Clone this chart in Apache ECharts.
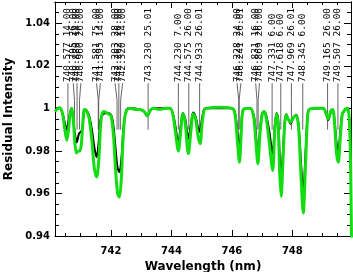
<!DOCTYPE html>
<html><head><meta charset="utf-8">
<script src="https://cdn.jsdelivr.net/npm/echarts@6/dist/echarts.min.js"></script>
<style>html,body{margin:0;padding:0;background:#fff}#c{width:353px;height:272px}</style>
</head><body><div id="c"></div>
<script>
// ---- data ----
const greenWl = [740.15,740.25,740.31,740.40,740.47,740.54,740.60,740.65,740.70,740.75,740.80,740.86,740.92,740.97,741.02,741.07,741.12,741.18,741.27,741.37,741.45,741.53,741.60,741.65,741.70,741.77,741.90,742.00,742.08,742.15,742.22,742.28,742.34,742.40,742.45,742.52,742.63,742.80,742.96,743.10,743.20,743.30,743.39,743.62,743.80,743.95,744.05,744.14,744.23,744.30,744.38,744.45,744.56,744.65,744.72,744.80,744.88,744.95,745.01,745.08,745.15,745.60,746.00,746.10,746.18,746.25,746.31,746.38,746.60,746.72,746.79,746.86,746.93,747.00,747.06,747.13,747.23,747.35,747.42,747.48,747.53,747.58,747.63,747.69,747.75,747.80,747.86,747.95,748.02,748.12,748.20,748.28,748.36,748.44,748.50,748.56,748.75,749.02,749.11,749.19,749.28,749.34,749.41,749.46,749.52,749.58,749.65,749.72,749.81,749.88,749.93,749.97];
const greenVal = [0.9985,1.0000,1.0003,0.9975,0.9905,0.9850,0.9905,0.9970,1.0000,0.9960,0.9850,0.9790,0.9800,0.9800,0.9830,0.9930,0.9995,0.9990,0.9960,0.9850,0.9720,0.9677,0.9760,0.9900,0.9970,0.9985,0.9975,0.9965,0.9880,0.9720,0.9600,0.9583,0.9660,0.9850,0.9950,0.9990,1.0000,0.9995,0.9995,0.9985,0.9965,0.9990,1.0000,0.9995,1.0000,1.0000,0.9970,0.9880,0.9800,0.9880,0.9975,0.9940,0.9787,0.9900,0.9975,0.9950,0.9870,0.9834,0.9920,0.9990,1.0000,1.0005,1.0000,0.9975,0.9850,0.9747,0.9880,0.9995,1.0000,0.9960,0.9850,0.9740,0.9880,0.9970,0.9985,0.9960,0.9850,0.9708,0.9900,0.9975,0.9930,0.9700,0.9586,0.9750,0.9930,0.9970,0.9950,0.9935,0.9955,0.9967,0.9920,0.9700,0.9508,0.9750,0.9950,0.9995,1.0000,1.0000,0.9980,0.9951,0.9990,0.9995,0.9900,0.9790,0.9747,0.9850,0.9970,0.9990,1.0000,0.9960,0.9700,0.9200];

const blackWl = [740.15,740.31,740.40,740.47,740.53,740.60,740.65,740.70,740.76,740.82,740.87,740.94,741.00,741.05,741.10,741.16,741.27,741.37,741.46,741.53,741.60,741.65,741.70,741.85,742.00,742.08,742.16,742.22,742.28,742.35,742.41,742.47,742.52,742.63,742.96,743.10,743.20,743.30,743.39,743.95,744.05,744.14,744.23,744.30,744.38,744.46,744.56,744.65,744.72,744.80,744.88,744.94,745.01,745.08,745.15,746.00,746.10,746.18,746.25,746.31,746.38,746.60,746.72,746.79,746.86,746.93,747.00,747.06,747.13,747.23,747.35,747.42,747.48,747.53,747.58,747.63,747.69,747.75,747.80,747.86,747.95,748.02,748.12,748.20,748.28,748.36,748.44,748.50,748.56,749.02,749.11,749.19,749.28,749.34,749.41,749.46,749.52,749.58,749.65,749.72,749.90];
const blackVal = [1.0000,1.0000,0.9975,0.9935,0.9900,0.9940,0.9980,1.0000,0.9940,0.9870,0.9840,0.9880,0.9890,0.9900,0.9970,0.9995,0.9970,0.9900,0.9810,0.9770,0.9850,0.9940,0.9967,0.9978,0.9970,0.9920,0.9800,0.9720,0.9700,0.9770,0.9900,0.9970,0.9995,1.0000,0.9995,0.9985,0.9963,0.9990,1.0000,1.0000,0.9975,0.9910,0.9834,0.9910,0.9978,0.9950,0.9857,0.9930,0.9980,0.9960,0.9910,0.9889,0.9950,0.9995,1.0000,1.0000,0.9980,0.9900,0.9800,0.9910,0.9995,1.0000,0.9970,0.9890,0.9779,0.9900,0.9975,0.9985,0.9970,0.9900,0.9787,0.9920,0.9978,0.9950,0.9780,0.9677,0.9800,0.9940,0.9972,0.9950,0.9928,0.9950,0.9970,0.9930,0.9760,0.9606,0.9800,0.9955,0.9995,1.0000,0.9975,0.9945,0.9985,0.9990,0.9920,0.9840,0.9800,0.9880,0.9975,0.9990,1.0000];

const lineWl = [740.577,740.795,740.880,740.960,741.581,741.595,742.203,742.262,742.320,743.230,744.230,744.575,744.933,746.228,746.241,746.831,746.869,747.331,747.618,747.969,748.345,749.165,749.507];
const lineLabel = ['740.577 14.00','740.795 26.00','740.880 14.00','740.960 26.00','741.581 75.00','741.595 14.00','742.203 28.00','742.262 26.00','742.320 14.00','743.230 25.01','744.230 7.00','744.575 26.00','744.933 26.01','746.228 24.00','746.241 26.01','746.831 16.00','746.869 26.00','747.331 6.00','747.618 6.00','747.969 26.01','748.345 6.00','749.165 26.00','749.507 26.00'];

const xTicks = [742,744,746,748];
const xMinor = [740.5,741,741.5,742,742.5,743,743.5,744,744.5,745,745.5,746,746.5,747,747.5,748,748.5,749,749.5];
const yTicks = [0.94,0.96,0.98,1.00,1.02,1.04];
const yMinor = [0.945,0.95,0.955,0.965,0.97,0.975,0.985,0.99,0.995,1.005,1.01,1.015,1.025,1.03,1.035,1.045];

// ---- chart ----
const XMIN = 740.15, XMAX = 749.94, YMIN = 0.94, YMAX = 1.05;
const labFont = {fontFamily:'DejaVu Sans', fontWeight:'bold', fontSize:10, color:'#000'};

function xAx(pos, values, len, labels, name) {
  return {
    type:'value', position:pos, min:XMIN, max:XMAX, scale:true,
    axisLine:{show:!!labels || pos==='top', onZero:false, lineStyle:{color:'#000', width:1}},
    axisTick:{show:true, inside:true, length:len, customValues:values, lineStyle:{color:'#000', width:1}},
    axisLabel: labels ? Object.assign({show:true, customValues:values, margin:10, formatter:v=>String(v)}, labFont) : {show:false},
    splitLine:{show:false},
    name: name || '', nameLocation:'middle', nameGap:24,
    nameTextStyle:{fontFamily:'DejaVu Sans', fontWeight:'bold', fontSize:12, color:'#000'}
  };
}
function yAx(pos, values, len, labels, name) {
  return {
    type:'value', position:pos, min:YMIN, max:YMAX,
    axisLine:{show:!!labels || pos==='right', onZero:false, lineStyle:{color:'#000', width:1}},
    axisTick:{show:true, inside:true, length:len, customValues:values, lineStyle:{color:'#000', width:1}},
    axisLabel: labels ? Object.assign({show:true, customValues:values, margin:5, formatter:v=>String(+v.toFixed(2))}, labFont) : {show:false},
    splitLine:{show:false},
    name: name || '', nameLocation:'middle', nameGap:40,
    nameTextStyle:{fontFamily:'DejaVu Sans', fontWeight:'bold', fontSize:12, color:'#000'}
  };
}

function spread(xs, gap) {
  let cl = xs.map((x,i)=>({s:i,e:i,sum:x,n:1}));
  let changed = true;
  while (changed) {
    changed = false;
    for (let k=0;k<cl.length-1;k++) {
      const a=cl[k], b=cl[k+1];
      const ar = a.sum/a.n + (a.n-1)*gap/2;
      const bl = b.sum/b.n - (b.n-1)*gap/2;
      if (bl - ar < gap) {
        cl.splice(k,2,{s:a.s,e:b.e,sum:a.sum+b.sum,n:a.n+b.n});
        changed = true; break;
      }
    }
  }
  const out = [];
  cl.forEach(c=>{ const c0=c.sum/c.n-(c.n-1)*gap/2; for(let i=c.s;i<=c.e;i++) out[i]=c0+(i-c.s)*gap; });
  return out;
}

const LAB_BOTTOM = 1.0118, KNEE = 1.0038, LINE_END = 0.99;

function renderAnno(params, api) {
  const i = params.dataIndex;
  const xs = lineWl.map(w=>api.coord([w,1])[0]);
  const lx = spread(xs, 3.8);
  const yb = api.coord([lineWl[i], LAB_BOTTOM])[1];
  const yk = api.coord([lineWl[i], KNEE])[1];
  const ye = api.coord([lineWl[i], LINE_END])[1];
  return {
    type:'group',
    children:[
      {type:'polyline', shape:{points:[[lx[i],yb],[xs[i],yk],[xs[i],ye]]}, style:{stroke:'#555', lineWidth:0.9, fill:null}},
      {type:'text', x:lx[i], y:yb-1, rotation:Math.PI/2,
       style:{text:lineLabel[i], fontFamily:'DejaVu Sans Mono', fontSize:9.5, fill:'#000', align:'left', verticalAlign:'middle'}}
    ]
  };
}

const chart = echarts.init(document.getElementById('c'), null, {renderer:'canvas'});
chart.setOption({
  animation:false,
  backgroundColor:'#fff',
  grid:{left:55, top:2, width:296, height:234, containLabel:false, outerBoundsMode:'none'},
  xAxis:[
    xAx('bottom', xTicks, 6, true, 'Wavelength (nm)'),
    xAx('bottom', xMinor, 3, false),
    xAx('top', xTicks, 6, false),
    xAx('top', xMinor, 3, false)
  ],
  yAxis:[
    yAx('left', yTicks, 7, true, 'Residual Intensity'),
    yAx('left', yMinor, 4, false),
    yAx('right', yTicks, 7, false),
    yAx('right', yMinor, 4, false)
  ],
  series:[
    {type:'custom', coordinateSystem:'cartesian2d', xAxisIndex:0, yAxisIndex:0, z:1,
     data: lineWl.map(w=>[w,1]), renderItem:renderAnno, clip:false},
    {type:'line', xAxisIndex:0, yAxisIndex:0, z:2, showSymbol:false, smooth:0.3, clip:true,
     data: blackWl.map((w,i)=>[w,blackVal[i]]), lineStyle:{color:'#000', width:2}},
    {type:'line', xAxisIndex:0, yAxisIndex:0, z:3, showSymbol:false, smooth:0.3, clip:true,
     data: greenWl.map((w,i)=>[w,greenVal[i]]), lineStyle:{color:'#11dd11', width:3}}
  ]
});
</script>
</body></html>
